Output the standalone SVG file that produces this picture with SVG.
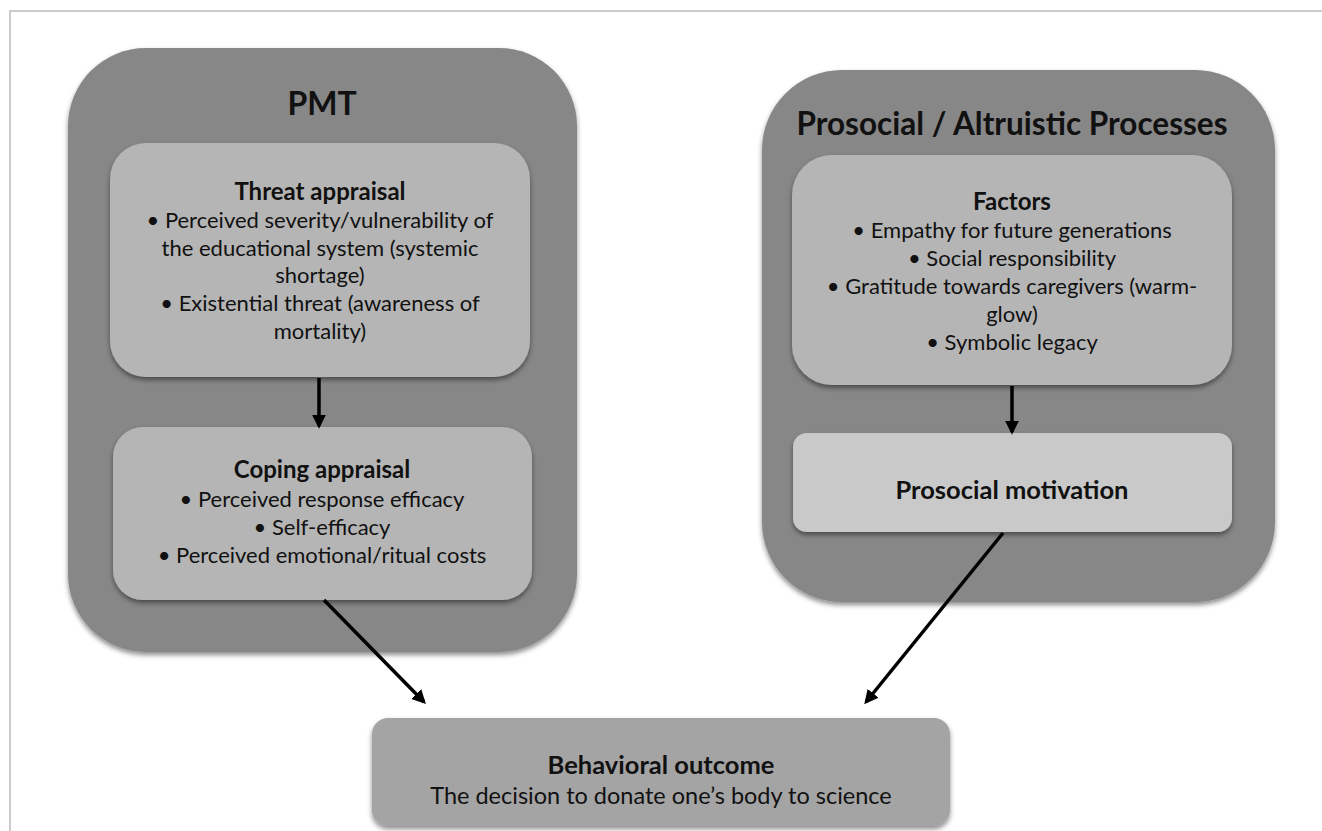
<svg xmlns="http://www.w3.org/2000/svg" width="1322" height="831" viewBox="0 0 1322 831">
<defs>
<style>
text{font-family:Lato,"Liberation Sans",sans-serif;fill:#111;text-anchor:middle}
.h{font-weight:bold;font-size:24px}
.b{font-size:22px}
.t{font-weight:bold;font-size:32px}
.outer{fill:#878787}
.inner{fill:#b5b5b5;filter:url(#sh)}
.conn{stroke:#000;stroke-width:3.5;fill:none;marker-end:url(#ah)}
</style>
<filter id="sh" x="-10%" y="-10%" width="120%" height="130%">
<feDropShadow dx="0" dy="3" stdDeviation="2.5" flood-color="#000" flood-opacity="0.45"/>
</filter>
<marker id="ah" viewBox="0 0 10 10" refX="8" refY="5" markerWidth="4" markerHeight="4" orient="auto" markerUnits="strokeWidth">
<path d="M0,0 L10,5 L0,10 z" fill="#000"/>
</marker>
</defs>
<rect x="10" y="11" width="1330" height="840" fill="#fff" stroke="#bbb" stroke-width="1.5"/>
<g id="pmt">
<rect class="outer" x="68" y="48" width="509" height="604" rx="78" style="filter:url(#sh)"/>
<text class="t" x="322" y="115">PMT</text>
</g>
<g id="threat">
<rect class="inner" x="110" y="143" width="420" height="234" rx="36"/>
<text class="h" x="320" y="200">Threat appraisal</text>
<text class="b" x="320" y="228">• Perceived severity/vulnerability of</text>
<text class="b" x="320" y="256">the educational system (systemic</text>
<text class="b" x="320" y="283">shortage)</text>
<text class="b" x="320" y="311">• Existential threat (awareness of</text>
<text class="b" x="320" y="339">mortality)</text>
</g>
<g id="coping">
<rect class="inner" x="113" y="427" width="419" height="173" rx="30"/>
<text class="h" x="322" y="478">Coping appraisal</text>
<text class="b" x="322" y="507">• Perceived response efficacy</text>
<text class="b" x="322" y="535">• Self-efficacy</text>
<text class="b" x="322" y="563">• Perceived emotional/ritual costs</text>
</g>
<g id="prosocial">
<rect class="outer" x="762" y="70" width="513" height="532" rx="80" style="filter:url(#sh)"/>
<text class="t" x="1012" y="135" style="font-size:31.5px">Prosocial / Altruistic Processes</text>
</g>
<g id="factors">
<rect class="inner" x="792" y="155" width="440" height="230" rx="40"/>
<text class="h" x="1012" y="210">Factors</text>
<text class="b" x="1012" y="238">• Empathy for future generations</text>
<text class="b" x="1012" y="266">• Social responsibility</text>
<text class="b" x="1012" y="294">• Gratitude towards caregivers (warm-</text>
<text class="b" x="1012" y="322">glow)</text>
<text class="b" x="1012" y="350">• Symbolic legacy</text>
</g>
<g id="motivation">
<rect class="inner" x="793" y="433" width="439" height="99" rx="14" style="fill:#c9c9c9"/>
<text class="h" x="1012" y="499" style="font-size:25.5px">Prosocial motivation</text>
</g>
<g id="outcome">
<rect class="inner" x="372" y="718" width="578" height="108" rx="16" style="fill:#a4a4a4"/>
<text class="h" x="661" y="774" style="font-size:25.5px">Behavioral outcome</text>
<text class="b" x="661" y="804" style="font-size:23.5px">The decision to donate one’s body to science</text>
</g>
<g id="connectors">
<line class="conn" x1="319" y1="378" x2="319" y2="426"/>
<line class="conn" x1="1012" y1="386" x2="1012" y2="432"/>
<line class="conn" x1="324" y1="600" x2="424" y2="702"/>
<line class="conn" x1="1003" y1="533" x2="866" y2="702"/>
</g>
</svg>
